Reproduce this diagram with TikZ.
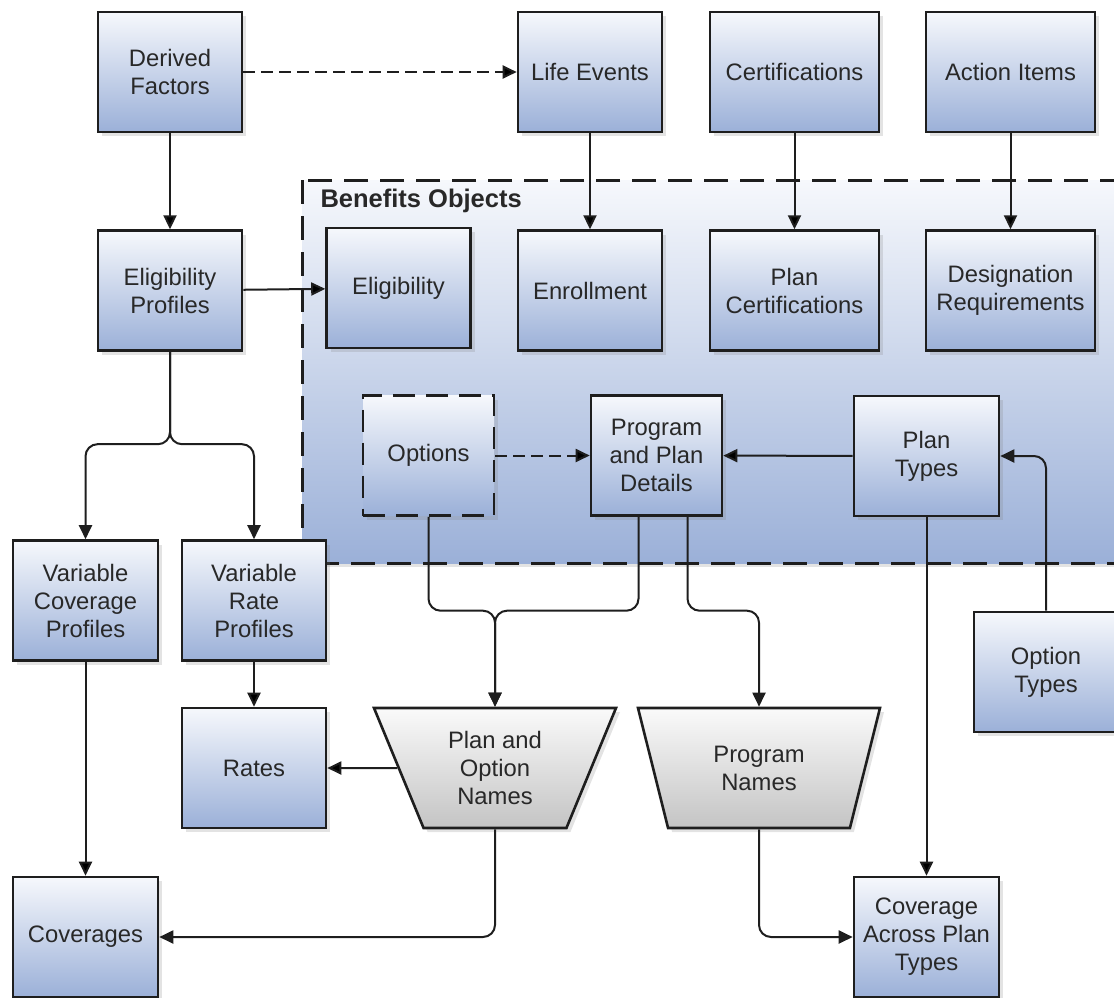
\documentclass[tikz,border=0pt]{standalone}
\usepackage{fontspec}
\setmainfont{Liberation Sans}
\usetikzlibrary{arrows.meta}
\usetikzlibrary{positioning}
\usetikzlibrary{shapes.geometric}
\usetikzlibrary{shadows}

\definecolor{boxtop}{RGB}{246,248,252}
\definecolor{boxbot}{RGB}{155,176,216}
\definecolor{traptop}{RGB}{250,250,250}
\definecolor{trapbot}{RGB}{196,196,196}
\definecolor{edgecol}{RGB}{30,30,30}
\definecolor{textcol}{RGB}{40,40,40}

\begin{document}
\begin{tikzpicture}[x=1pt, y=-1pt, node distance=96pt,
        font=\fontsize{23.8}{28}\selectfont,
        shade/.style={drop shadow={shadow xshift=4pt, shadow yshift=-4pt, opacity=0.22}},
        box/.style={draw=edgecol, line width=2.6pt, top color=boxtop, bottom color=boxbot,
            minimum width=144pt, minimum height=120pt, inner sep=0pt, align=center,
            text=textcol, shade},
        widebox/.style={box, minimum width=169pt},
        trap/.style={trapezium, shape border rotate=180, trapezium angle=56,
            trapezium stretches body, draw=edgecol, line width=2.6pt,
            top color=traptop, bottom color=trapbot, minimum width=242pt,
            minimum height=120pt, inner sep=0pt, align=center, text=textcol, shade},
        arr/.style={draw=edgecol, line width=2pt, -{Triangle[length=14pt,width=13pt]}},
        dasharr/.style={arr, dash pattern=on 12pt off 6pt},
        group/.style={draw=edgecol, line width=3pt, dash pattern=on 24pt off 12pt,
            top color=boxtop, bottom color=boxbot, shade}]
    \useasboundingbox (0,0) rectangle (1114,997);

    % benefits objects area
    \draw[group] (302,180) rectangle (1140,563);
    \node [anchor=base west, text=textcol, font=\fontsize{25.5}{28}\selectfont\bfseries] (bo) at (317,207) {Benefits Objects};

    \node [box] (df) at (170,72) {Derived\\Factors};
    \node [box] (le) at (590,72) {Life Events};
    \node [widebox] (cert) at (794.5,72) {Certifications};
    \node [widebox] (act) at (1010.5,72) {Action Items};

    \node [box] (ep) [below=of df] {Eligibility\\Profiles};
    \node [box] (elig) at (398.5,288) {Eligibility};
    \node [box] (enr) [below=of le] {Enrollment};
    \node [widebox] (pcert) [below=of cert] {Plan\\Certifications};
    \node [widebox] (des) [below=of act] {Designation\\Requirements};

    \node [box, minimum width=131pt, dash pattern=on 22pt off 11pt] (opt) at (428.5,455.5) {Options};
    \node [box, minimum width=131pt] (ppd) at (656.5,455.5) {Program\\and Plan\\Details};
    \node [box, minimum width=145pt] (pt) at (926.5,456) {Plan\\Types};
    \node [box] (ot) at (1046,672) {Option\\Types};

    \node [box, minimum width=145pt] (vcp) at (85.5,600.5) {Variable\\Coverage\\Profiles};
    \node [box] (vrp) at (254,600.5) {Variable\\Rate\\Profiles};
    \node [box] (rates) at (254,768) {Rates};
    \node [trap] (pon) at (495,768) {Plan and\\Option\\Names};
    \node [trap] (pn) at (759,768) {Program\\Names};
    \node [box, minimum width=145pt] (cov) at (85.5,937) {Coverages};
    \node [box, minimum width=145pt] (cap) at (926.5,937) {Coverage\\Across Plan\\Types};

    \path[dasharr] (df) edge (le) (opt) edge (ppd);
    \path[arr]
        (df) edge (ep)
        (le) edge (enr)
        (cert) edge (pcert)
        (act) edge (des)
        (ep) edge (elig)
        (pt) edge (ppd)
        (pt) edge (cap)
        (vcp) edge (cov)
        (vrp) edge (rates)
        (pon) edge (rates);
    \draw[arr, rounded corners=12pt] (ep.south) |- ([yshift=95pt]vcp.north) -- (vcp.north);
    \draw[arr, rounded corners=12pt] (ep.south) |- ([yshift=95pt]vrp.north) -- (vrp.north);
    \draw[arr, rounded corners=12pt] (opt.south) |- ([yshift=96pt]pon.north) -- (pon.north);
    \draw[arr, rounded corners=12pt] ([xshift=-18pt]ppd.south) |- ([yshift=96pt]pon.north) -- (pon.north);
    \draw[arr, rounded corners=12pt] ([xshift=31pt]ppd.south) |- ([yshift=96pt]pn.north) -- (pn.north);
    \draw[arr, rounded corners=12pt] (ot.north) |- (pt.east);
    \draw[arr, rounded corners=12pt] (pon.south) |- (cov.east);
    \draw[arr, rounded corners=12pt] (pn.south) |- (cap.west);
\end{tikzpicture}
\end{document}
